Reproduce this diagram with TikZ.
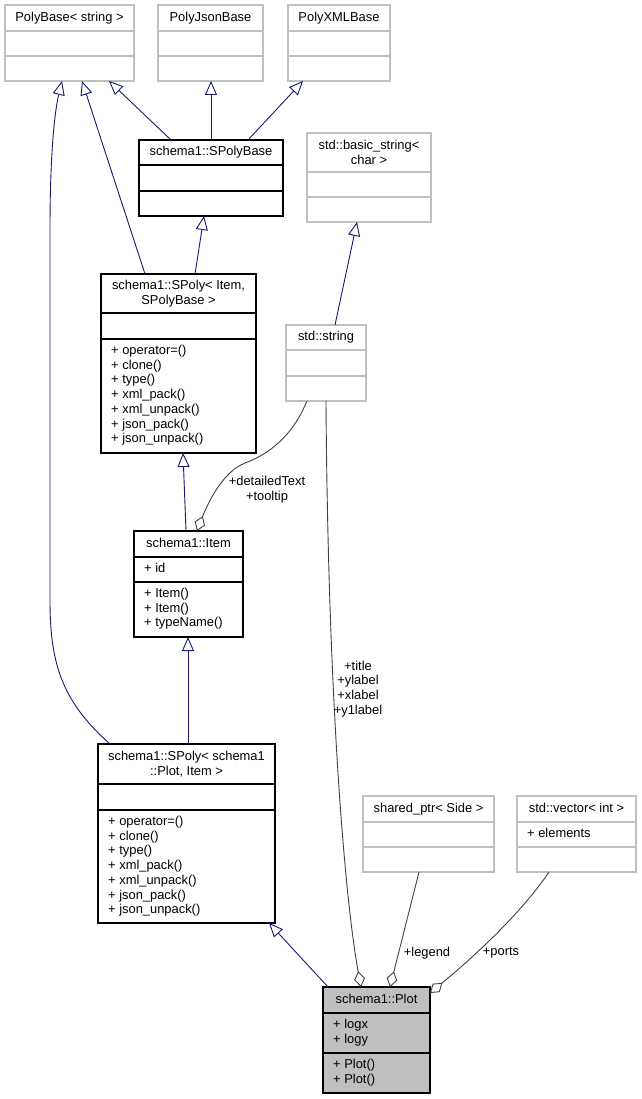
\documentclass[tikz,border=0pt]{standalone}
\usepackage{fontspec}
\setmainfont{Liberation Sans}
\usetikzlibrary{arrows.meta}

\definecolor{edgeblue}{HTML}{191970}
\definecolor{boxgray}{HTML}{BFBFBF}
\definecolor{usegray}{HTML}{404040}

\tikzset{
    graybox/.style={draw=boxgray, line width=1.1pt, outer sep=0pt, inner sep=0pt},
    blackbox/.style={draw=black, line width=1.1pt, outer sep=0pt, inner sep=0pt},
    plotbox/.style={draw=black, fill=boxgray, line width=1.1pt, outer sep=0pt, inner sep=0pt},
    title/.style={inner sep=0pt, text height=9.3pt, text depth=2.8pt},
    title2/.style={inner sep=0pt, align=center},
    members/.style={anchor=north west, align=left, inner sep=0pt},
    inherit/.style={draw=edgeblue, line width=0.9pt, -{Triangle[length=14pt, width=12pt, fill=white]}},
    uses/.style={draw=usegray, line width=0.9pt, -{Diamond[length=16pt, width=11pt, fill=white]}},
    edgelabel/.style={inner sep=0pt, align=center}
}

\begin{document}
\begin{tikzpicture}[x=1pt, y=-1pt, font=\fontsize{12.9}{14.7}\selectfont]
    \useasboundingbox (0,0) rectangle (641,1099);

    % class frame: name, left, top, right, bottom, first divider, second divider, style
    \def\umlbox#1#2#3#4#5#6#7#8{%
        \node[#8, anchor=north west, minimum width={#4-#2}, minimum height={#5-#3}] (#1) at (#2,#3) {};
        \draw[#8, fill=none] (#2,#6) -- (#4,#6) (#2,#7) -- (#4,#7);
    }

    % base classes at the top
    \umlbox{polybase}{5}{5}{134}{81}{31}{56}{graybox}
    \node[title] (polybase-t) at (69.5,18) {PolyBase< string >};

    \umlbox{polyjson}{158}{5}{263}{81}{31}{56}{graybox}
    \node[title] (polyjson-t) at (210.5,18) {PolyJsonBase};

    \umlbox{polyxml}{288}{5}{390}{81}{31}{56}{graybox}
    \node[title] (polyxml-t) at (339,18) {PolyXMLBase};

    \umlbox{spolybase}{139}{140}{283}{216}{165}{191}{blackbox}
    \node[title] (spolybase-t) at (211,152.5) {schema1::SPolyBase};

    \umlbox{basicstr}{307}{133}{431}{222}{172}{197}{graybox}
    \node[title2] (basicstr-t) at (369,152.5) {std::basic\_string<\\char >};

    % middle row
    \umlbox{spolyitem}{101}{274}{256}{453}{313}{339}{blackbox}
    \node[title2] (spolyitem-t) at (178.5,293.5) {schema1::SPoly< Item,\\SPolyBase >};
    \node[members] (spolyitem-m) at (111,345) {+ operator=()\\+ clone()\\+ type()\\+ xml\_pack()\\+ xml\_unpack()\\+ json\_pack()\\+ json\_unpack()};

    \umlbox{stdstring}{286}{325}{366}{401}{350}{376}{graybox}
    \node[title] (stdstring-t) at (326,337.5) {std::string};

    \umlbox{item}{134}{531}{243}{637}{557}{582}{blackbox}
    \node[title] (item-t) at (188.5,544) {schema1::Item};
    \node[members] (item-a) at (144,563) {+ id};
    \node[members] (item-m) at (144,588) {+ Item()\\+ Item()\\+ typeName()};

    % lower row
    \umlbox{spolyplot}{98}{744}{275}{923}{784}{810}{blackbox}
    \node[title2] (spolyplot-t) at (186.5,764) {schema1::SPoly< schema1\\::Plot, Item >};
    \node[members] (spolyplot-m) at (108,816) {+ operator=()\\+ clone()\\+ type()\\+ xml\_pack()\\+ xml\_unpack()\\+ json\_pack()\\+ json\_unpack()};

    \umlbox{sharedptr}{363}{796}{494}{872}{822}{847}{graybox}
    \node[title] (sharedptr-t) at (428.5,809) {shared\_ptr< Side >};

    \umlbox{vector}{517}{796}{636}{872}{822}{847}{graybox}
    \node[title] (vector-t) at (576.5,809) {std::vector< int >};
    \node[members] (vector-a) at (527,828) {+ elements};

    % the class itself
    \umlbox{plot}{323}{987}{430}{1093}{1013}{1053}{plotbox}
    \node[title] (plot-t) at (376.5,1000) {schema1::Plot};
    \node[members] (plot-a) at (333,1019) {+ logx\\+ logy};
    \node[members] (plot-m) at (333,1059) {+ Plot()\\+ Plot()};

    % inheritance
    \draw[inherit] ([xshift=12]spolyplot.north west) .. controls (60,700) and (50,660) .. (50,600)
        -- (50,230) .. controls (50,150) and (55,110) .. ([xshift=57]polybase.south west);
    \draw[inherit] ([xshift=44]spolyitem.north west) -- ([xshift=77]polybase.south west);
    \draw[inherit] ([xshift=32]spolybase.north west) -- ([xshift=104]polybase.south west);
    \draw[inherit] ([xshift=72]spolybase.north west) -- ([xshift=53]polyjson.south west);
    \draw[inherit] ([xshift=109]spolybase.north west) -- ([xshift=15]polyxml.south west);
    \draw[inherit] ([xshift=94]spolyitem.north west) -- ([xshift=65]spolybase.south west);
    \draw[inherit] ([xshift=49]stdstring.north west) -- ([xshift=50]basicstr.south west);
    \draw[inherit] ([xshift=52]item.north west) -- ([xshift=82]spolyitem.south west);
    \draw[inherit] ([xshift=90]spolyplot.north west) -- ([xshift=54]item.south west);
    \draw[inherit] ([xshift=5]plot.north west) -- ([xshift=-6]spolyplot.south east);

    % members (aggregation)
    \draw[uses] ([xshift=21]stdstring.south west) .. controls (295,430) and (275,452) .. (245,463)
        .. controls (222,472) and (207,505) .. ([xshift=63]item.north west);
    \draw[uses] ([xshift=40]stdstring.south west) .. controls (328,700) and (345,900) .. ([xshift=38]plot.north west);
    \draw[uses] ([xshift=56]sharedptr.south west) -- ([xshift=67]plot.north west);
    \draw[uses] ([xshift=32]vector.south west) .. controls (520,915) and (470,960) .. ([yshift=-6]plot.north east);

    % edge labels
    \node[edgelabel] (lbl-text) at (267,490) {+detailedText\\+tooltip};
    \node[edgelabel] (lbl-title) at (358,689) {+title\\+ylabel\\+xlabel\\+y1label};
    \node[edgelabel] (lbl-legend) at (427,953) {+legend};
    \node[edgelabel] (lbl-ports) at (501,953) {+ports};
\end{tikzpicture}
\end{document}
